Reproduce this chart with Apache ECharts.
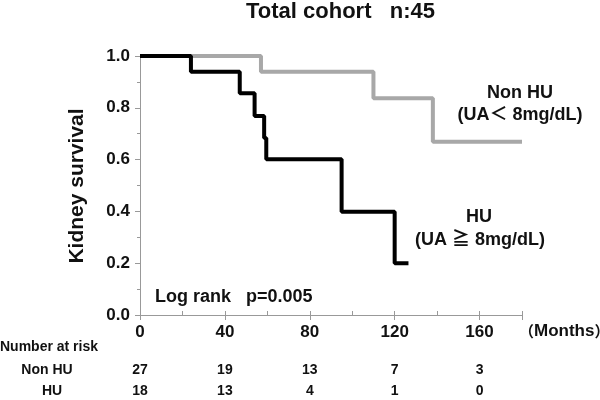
<!DOCTYPE html>
<html><head><meta charset="utf-8">
<script src="https://cdn.jsdelivr.net/npm/echarts@6/dist/echarts.min.js"></script>
<style>html,body{margin:0;padding:0;background:#fff}#c{width:600px;height:400px}</style>
</head><body><div id="c"></div>
<script>
// Kaplan-Meier data (months, survival)
const nonHuTimes = [0, 57, 110, 138, 180];
const nonHuSurv  = [1.0, 0.939, 0.837, 0.669, 0.669];
const huTimes = [0, 24, 47, 54, 58.5, 59.5, 95, 120, 126.5];
const huSurv  = [1.0, 0.939, 0.856, 0.768, 0.683, 0.601, 0.399, 0.2, 0.2];
// Number at risk
const riskTimes = [0, 40, 80, 120, 160];
const riskNonHu = [27, 19, 13, 7, 3];
const riskHu    = [18, 13, 4, 1, 0];
const yTicks = [0.0, 0.2, 0.4, 0.6, 0.8, 1.0];

const FONT = '"Liberation Sans", Arial, "Noto Sans CJK JP", sans-serif';
const pair = (t, s) => t.map((v, i) => [v, s[i]]);
const riskFmt = (arr) => (v) => { const i = riskTimes.indexOf(v); return i >= 0 ? String(arr[i]) : ''; };

const chart = echarts.init(document.getElementById('c'), null, {renderer: 'canvas'});
const baseX = {type: 'value', min: 0, max: 180, gridIndex: 0, position: 'bottom', splitLine: {show: false}};
chart.setOption({
  animation: false,
  backgroundColor: '#fff',
  textStyle: {fontFamily: FONT},
  grid: {left: 140, right: 78, top: 56, bottom: 85},
  xAxis: [
    Object.assign({}, baseX, {interval: 20,
      axisLine: {lineStyle: {color: '#999', width: 1}},
      axisTick: {inside: true, length: 4, lineStyle: {color: '#999'}},
      axisLabel: {show: false}}),
    Object.assign({}, baseX, {interval: 40,
      axisLine: {show: false},
      axisTick: {length: 5, lineStyle: {color: '#999'}},
      axisLabel: {margin: 9, fontSize: 17, fontWeight: 'bold', color: '#111', fontFamily: FONT,
        formatter: (v) => riskTimes.indexOf(v) >= 0 ? String(v) : ''}}),
    Object.assign({}, baseX, {interval: 40, offset: 48,
      axisLine: {show: false}, axisTick: {show: false},
      axisLabel: {margin: 0, fontSize: 14, fontWeight: 'bold', color: '#111', fontFamily: FONT, formatter: riskFmt(riskNonHu)}}),
    Object.assign({}, baseX, {interval: 40, offset: 69,
      axisLine: {show: false}, axisTick: {show: false},
      axisLabel: {margin: 0, fontSize: 14, fontWeight: 'bold', color: '#111', fontFamily: FONT, formatter: riskFmt(riskHu)}})
  ],
  yAxis: {
    type: 'value', min: 0, max: 1, interval: 0.2,
    splitLine: {show: false},
    axisLine: {show: true, lineStyle: {color: '#999', width: 1}},
    axisTick: {show: true, length: 5, lineStyle: {color: '#999'}},
    minorTick: {show: true, splitNumber: 2, length: 3, lineStyle: {color: '#999'}},
    axisLabel: {margin: 10, fontSize: 17, fontWeight: 'bold', color: '#111', fontFamily: FONT,
      formatter: (v) => yTicks.some(t => Math.abs(t - v) < 1e-9) ? v.toFixed(1) : ''}
  },
  series: [
    {type: 'line', step: 'end', symbol: 'none', xAxisIndex: 0, yAxisIndex: 0,
     data: pair(nonHuTimes, nonHuSurv), lineStyle: {color: '#a8a8a8', width: 4}, z: 2},
    {type: 'line', step: 'end', symbol: 'none', xAxisIndex: 0, yAxisIndex: 0,
     data: pair(huTimes, huSurv), lineStyle: {color: '#000', width: 4}, z: 3}
  ],
  graphic: [
    {type: 'text', x: 246, y: 12, style: {text: 'Total cohort   n:45', font: 'bold 22px ' + FONT, fill: '#111', verticalAlign: 'middle'}},
    {type: 'text', x: 77, y: 186, rotation: Math.PI / 2,
     style: {text: 'Kidney survival', font: 'bold 21px ' + FONT, fill: '#111', align: 'center', verticalAlign: 'middle'}},
    {type: 'text', x: 520, y: 93, style: {text: 'Non HU', font: 'bold 18px ' + FONT, fill: '#111', align: 'center', verticalAlign: 'middle'}},
    {type: 'text', x: 520, y: 115, style: {text: '(UA＜ 8mg/dL)', font: 'bold 18px ' + FONT, fill: '#111', align: 'center', verticalAlign: 'middle'}},
    {type: 'text', x: 479, y: 217, style: {text: 'HU', font: 'bold 18px ' + FONT, fill: '#111', align: 'center', verticalAlign: 'middle'}},
    {type: 'text', x: 480, y: 240, style: {text: '(UA ≧ 8mg/dL)', font: 'bold 18px ' + FONT, fill: '#111', align: 'center', verticalAlign: 'middle'}},
    {type: 'text', x: 155, y: 297, style: {text: 'Log rank   p=0.005', font: 'bold 18px ' + FONT, fill: '#111', verticalAlign: 'middle'}},
    {type: 'text', x: 519, y: 331, style: {
      text: '{p|（}{m|Months}{p|）}', verticalAlign: 'middle',
      rich: {p: {font: 'bold 15px "Noto Sans CJK JP", sans-serif', fill: '#111'},
             m: {font: 'bold 17px ' + FONT, fill: '#111'}}}},
    {type: 'text', x: 0, y: 347, style: {text: 'Number at risk', font: 'bold 14px ' + FONT, fill: '#111', verticalAlign: 'middle'}},
    {type: 'text', x: 47, y: 370, style: {text: 'Non HU', font: 'bold 14px ' + FONT, fill: '#111', align: 'center', verticalAlign: 'middle'}},
    {type: 'text', x: 52, y: 391, style: {text: 'HU', font: 'bold 14px ' + FONT, fill: '#111', align: 'center', verticalAlign: 'middle'}}
  ]
});
</script></body></html>
